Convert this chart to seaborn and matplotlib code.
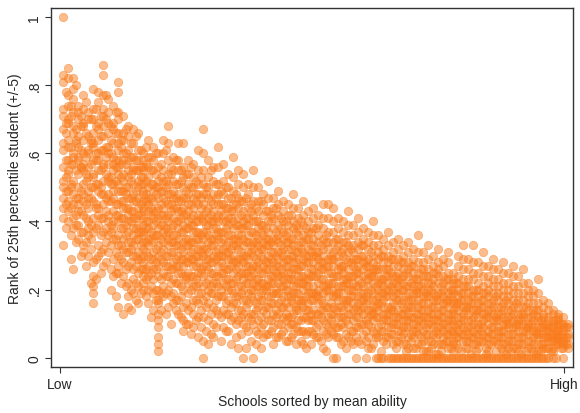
import seaborn as sns
import matplotlib.pyplot as plt
import pandas as pd

school_ranks = [
    "100 83 81 73 71 67 63 61 56 52 50 47 44 41 33",
    "85 82 77 74 70 69 64 62 58 55 54 49 46 43 40",
    "82 79 76 72 68 66 60 59 57 52 48 45 41 38 26",
    "74 72 70 65 62 59 58 54 50 47 45 43 39 35",
    "77 73 69 68 64 60 57 55 51 48 46 42 37 33 31",
    "72 70 65 61 60 56 53 49 47 44 40 38 36 30",
    "79 73 70 66 63 62 58 54 53 50 46 41 37 28 24 21 19 16",
    "78 75 69 67 64 60 58 55 51 49 44 42 39 33 30",
    "86 83 77 73 71 68 65 61 57 56 52 48 45 41 37 32 27",
    "76 72 69 66 62 60 57 53 52 48 46 42 40 36 31",
    "74 69 67 63 59 57 55 51 49 47 43 40 38 35 29 24",
    "81 78 72 70 66 63 61 58 56 54 51 49 45 42 40 36 33 30 27 25 15",
    "71 66 64 60 58 54 52 49 46 44 41 38 35 32 28 24 13",
    "68 65 61 58 55 53 50 47 44 42 40 37 34 31 27 22 18 15",
    "67 63 59 56 55 51 48 46 43 41 38 36 33 30 26 23 19",
    "66 61 58 55 52 50 47 44 42 39 37 35 31 29 25 21 16",
    "60 58 56 55 53 51 49 48 46 44 43 41 39 37 36 34 32 30 28 26 24 22 20",
    "64 59 56 53 50 47 45 43 40 38 35 33 30 27 24 20 16",
    "62 58 55 51 49 46 43 41 39 36 34 31 29 26 23 19 14",
    "60 56 52 50 47 44 41 38 36 33 30 27 24 20 17 16 13 11 9 6 4 2",
    "64 60 55 52 49 47 44 42 39 37 34 32 28 25 21 18",
    "68 63 58 54 51 48 45 42 40 37 35 33 30 27 24 20 15",
    "59 55 52 49 47 44 41 39 36 34 31 28 26 23 19 16",
    "63 58 55 51 48 46 43 40 38 35 33 30 27 25 22 17 13",
    "63 56 53 50 47 44 42 39 37 34 31 29 27 24 20 15 11 8",
    "58 54 51 48 45 43 40 38 35 33 30 28 25 22 19 14 10",
    "57 53 50 47 44 42 39 37 34 32 29 27 24 21 17 13 9",
    "61 55 51 48 45 42 40 37 35 32 30 28 25 22 19 16 12 6",
    "67 60 55 51 48 45 42 40 37 35 32 30 27 24 21 17 12 5 0",
    "58 53 50 47 44 41 39 36 34 31 29 26 23 20 16 11 4",
    "56 52 48 45 43 40 38 35 33 30 28 25 22 19 15 10 6",
    "62 56 51 48 45 42 40 37 35 32 30 27 24 21 18 13",
    "57 52 48 45 42 40 37 35 32 30 27 25 22 18 14 9",
    "54 50 47 44 41 39 36 34 31 29 26 23 20 17 13 8",
    "59 53 49 45 43 40 38 35 33 30 28 25 22 19 16 12",
    "55 51 47 44 41 39 36 34 32 29 27 24 21 18 14 11 3",
    "54 50 46 43 40 38 35 33 30 28 25 23 20 17 13 10 0",
    "51 48 44 41 39 36 34 31 29 27 24 22 19 16 12 8",
    "55 50 46 42 40 37 34 32 30 27 25 22 20 17 13 10 0",
    "50 46 43 40 38 35 33 31 28 26 23 21 18 15 11 7",
    "48 45 42 39 36 34 32 29 27 25 22 20 17 14 10 6",
    "52 47 43 40 37 35 33 30 28 26 23 21 18 15 11 7",
    "47 44 41 38 35 33 31 28 26 24 22 19 16 13 9 4",
    "49 45 42 39 36 34 31 29 27 24 22 19 16 13 10 6",
    "46 43 40 37 35 32 30 28 25 23 21 18 15 12 8",
    "45 42 39 37 34 32 29 27 25 23 20 18 15 12 9 5",
    "48 44 40 38 35 33 30 28 26 23 21 19 16 13 10 7",
    "44 41 38 36 33 31 29 26 24 22 19 17 14 11 8",
    "46 42 39 36 34 31 29 27 24 22 20 17 15 12 8 4",
    "43 40 37 35 32 30 28 25 23 21 19 16 14 11 8",
    "44 41 38 35 33 30 28 26 24 21 19 17 14 11 7",
    "42 39 36 34 31 29 27 25 22 20 18 16 13 10 6",
    "45 41 38 35 32 30 28 26 23 21 19 16 14 11 8 3",
    "45 41 37 34 32 29 27 25 22 20 18 15 12 9 6",
    "44 40 37 34 31 29 27 24 22 20 18 15 13 10 7 0",
    "41 38 35 33 30 28 26 24 21 19 17 15 12 9 6",
    "40 37 34 32 30 27 25 23 21 19 17 14 12 9 5",
    "43 39 36 33 31 28 26 24 22 20 17 15 13 10 6",
    "39 36 33 31 29 27 24 22 20 18 16 14 11 8 4",
    "41 37 34 32 29 27 25 23 21 18 16 14 12 9 5",
    "38 35 33 30 28 26 24 21 19 17 15 13 10 7",
    "37 34 32 29 27 25 23 21 19 17 14 12 10 6 3",
    "40 36 33 30 28 26 24 22 19 17 15 13 11 8 4",
    "36 33 31 29 26 24 22 20 18 16 14 12 9 6 0",
    "35 32 30 28 26 23 21 19 17 15 13 11 8 5 0",
    "37 33 30 28 26 24 22 20 18 15 13 11 9 6 0",
    "34 31 29 27 24 22 20 18 16 14 12 10 7 4 0",
    "35 32 29 27 25 23 21 19 17 14 12 10 8 5 0",
    "33 30 28 26 24 22 20 17 15 13 11 9 7 4 0",
    "34 31 28 26 24 21 19 17 15 13 11 9 6 3 0",
    "32 29 27 25 23 21 19 17 15 12 10 8 6 3 0",
    "36 31 28 25 23 21 19 17 15 13 11 9 7 4 0",
    "31 28 26 24 22 20 18 16 14 12 10 8 5 2 0",
    "33 29 26 24 22 20 18 16 14 12 10 7 5 2 0",
    "30 27 25 23 21 19 17 15 13 11 9 7 4 0",
    "32 28 26 24 22 19 17 15 13 11 9 7 4 1 0",
    "29 27 24 22 20 18 16 14 12 10 8 6 4 0",
    "31 28 25 23 21 19 17 15 13 11 9 7 5 3 0",
    "25 23 22 20 19 17 16 14 13 11 10 8 7 5 4 2 0",
    "30 27 24 22 20 18 16 14 12 10 8 6 3 0",
    "33 29 26 23 21 19 17 15 13 11 9 7 5 0",
    "29 26 23 21 19 17 15 13 11 9 7 5 3 0",
    "33 28 25 23 20 18 16 14 12 10 8 6 4 0",
    "28 25 22 20 18 16 14 12 10 9 7 5 3 0",
    "31 27 24 21 19 17 15 13 11 9 7 5 0",
    "27 24 22 20 18 16 14 12 10 8 6 4 2 0",
    "29 26 23 21 19 17 15 13 11 9 7 5 0",
    "26 23 21 19 17 15 13 11 9 8 6 4 0",
    "28 25 22 20 18 16 14 12 10 8 6 4 2 0",
    "25 22 20 18 16 14 12 10 9 7 5 3 0",
    "27 24 21 19 17 15 13 11 9 7 5 3 0",
    "24 21 19 17 15 13 11 10 8 6 4 2 0",
    "26 22 19 17 15 13 12 10 8 6 4 0",
    "22 20 18 16 14 12 10 9 7 5 3 0",
    "20 18 16 14 13 11 9 8 6 4 2 0",
    "23 19 16 14 12 11 9 7 6 4 2 0",
    "17 15 13 12 10 9 7 6 4 3 0",
    "16 14 12 11 9 8 6 5 3 0",
    "14 13 11 10 9 7 6 5 3 2 0",
    "13 12 11 10 9 8 7 6 5 4",
    "12 10 9 8 6 5 4 3 0",
    "10 9 7 6 4 3",
]
# schools that sit between the ones above
school_ranks_mid = [
    "78 69 66 58 53 49 45 38",
    "74 71 62 57 51 50 44 36 29",
    "80 67 64 63 55 47 42 39 34",
    "71 68 61 56 56 49 43 37 30",
    "75 66 59 54 52 45 41 34 27",
    "70 64 63 57 50 47 39 35 32 22",
    "73 68 60 58 51 45 44 38 29 23",
    "71 65 61 55 50 48 41 36 31 25",
    "77 70 62 59 54 47 43 38 34 28",
    "68 64 60 53 51 46 39 37 33 26 20",
    "72 66 58 56 52 45 42 35 31 25 18",
    "64 62 57 53 49 46 41 38 33 29 22",
    "67 60 57 50 48 44 39 36 31 26 21",
    "63 59 54 52 47 43 40 34 32 28 20 14",
    "65 58 55 49 46 41 38 35 30 27 22 17",
    "61 56 53 51 45 42 37 33 29 26 19",
    "62 57 52 48 46 40 38 34 31 26 23 18",
    "59 55 51 47 44 42 37 35 29 25 21 12",
    "60 54 50 48 43 40 36 32 28 26 20 17",
    "57 53 49 45 42 39 35 31 29 23 19 14",
    "61 52 50 46 41 38 36 30 27 24 19 13",
    "56 54 48 45 43 38 34 31 26 22 18 10",
    "58 51 47 44 40 36 33 29 27 22 17 14",
    "55 52 46 43 41 37 32 29 25 21 18 12",
    "54 49 47 42 38 35 33 28 24 23 16 10",
    "56 50 45 41 39 34 31 29 24 20 15 7",
    "52 48 46 40 37 35 30 27 23 21 17 11",
    "53 47 44 41 36 33 31 26 25 19 14 9",
    "50 48 43 39 37 32 29 27 22 18 15 8",
    "55 46 42 40 35 33 28 25 21 19 13 7",
    "51 47 41 38 36 31 29 24 22 17 14 9",
    "49 45 43 37 34 30 28 25 20 18 12 5",
    "50 44 40 38 33 31 26 23 21 16 13 8",
    "47 43 41 36 32 29 27 22 20 15 11 4",
    "48 45 39 35 33 28 26 23 18 16 10 6",
    "46 42 38 36 31 29 25 21 19 14 12 7",
    "47 41 39 34 30 27 25 22 17 15 9 3",
    "45 43 37 33 31 26 24 20 18 13 11 5",
    "44 40 36 34 29 27 23 21 16 14 8 4",
    "46 39 37 32 30 25 22 19 17 12 9 3",
    "43 38 35 33 28 26 21 20 15 13 7",
    "42 40 34 31 29 24 22 18 16 11 8",
    "44 37 35 30 27 25 20 19 14 12 6",
    "41 38 33 31 26 24 21 17 15 10 7",
    "40 36 34 29 27 22 20 16 13 11 5",
    "42 35 32 30 25 23 18 17 12 10 6",
    "39 37 31 28 26 21 19 15 14 9 4",
    "40 34 32 27 24 22 17 16 11 8 5",
    "38 35 30 28 23 21 18 14 12 7 3",
    "37 33 31 26 24 19 17 13 11 8 4",
    "38 31 30 24 19 18 13 9 6",
    "33 28 26 23 17 14 12 5",
    "36 34 27 21 20 15 10 7 2",
    "30 29 25 22 16 13 11 8",
    "35 32 24 19 18 14 9 6 0",
    "31 27 26 21 15 12 10 4",
    "34 29 23 22 17 16 11 7 3",
    "32 28 24 20 18 13 8 5",
    "29 26 25 21 15 12 9 6 0",
    "33 30 22 19 17 14 10 4",
    "28 27 23 18 16 11 8 5 0",
    "31 25 24 20 14 13 9 3",
    "27 26 21 17 15 12 7 6 0",
    "30 23 22 19 16 10 8 2 0",
    "26 24 20 18 13 11 6 4",
    "29 25 21 15 14 9 7 0",
    "24 22 19 17 12 10 5 3 0",
    "28 23 20 16 13 8 6 0",
    "25 21 18 14 11 9 4 2 0",
    "27 22 17 15 12 7 5 0",
    "23 20 19 13 10 8 3 0",
    "26 21 16 14 11 6 4 0",
    "24 19 18 12 9 7 2 0",
    "22 20 15 13 10 5 3 0",
    "25 18 17 11 8 6 1 0",
    "21 19 14 12 9 4 2 0",
    "23 17 16 10 7 5 0",
    "20 18 13 11 8 3 0",
    "22 16 15 9 6 4 0",
    "19 17 12 10 7 2 0",
    "21 15 14 8 5 3 0",
    "18 16 11 9 6 1 0",
    "20 14 13 7 4 2 0",
    "17 15 10 8 5 0",
    "19 13 12 6 3 1 0",
    "16 14 9 7 4 0",
    "18 12 11 5 2 0",
    "15 13 8 6 3 0",
    "17 11 10 4 1 0",
    "14 12 7 5 2 0",
    "16 10 9 3 0",
    "13 11 6 4 1 0",
    "15 9 8 2 0",
    "12 10 5 3 0",
    "14 8 7 1 0",
    "11 9 4 2 0",
    "10 8 6 3 0",
    "9 7 5 2",
    "11 8 6 4 0",
    "10 7 5 3",
    "9 6 4",
]
y_ticks = [0, 0.2, 0.4, 0.6, 0.8, 1]
y_tick_labels = ["0", ".2", ".4", ".6", ".8", "1"]
x_tick_labels = ["Low", "High"]

rows = []
for school, s in enumerate(school_ranks, start=1):
    for v in s.split():
        rows.append((school, int(v) / 100))
for school, s in enumerate(school_ranks_mid, start=1):
    for v in s.split():
        rows.append((school + 0.5, int(v) / 100))
df = pd.DataFrame(rows, columns=["school", "rank25"])

sns.set_style("white")
plt.rcParams['font.family'] = ['Liberation Sans', 'DejaVu Sans']

orange = "#f97d1e"
fig = plt.figure(figsize=(5.8, 4.14), dpi=100)
ax = fig.add_axes([0.088, 0.111, 0.9, 0.867])

sns.scatterplot(data=df, x="school", y="rank25", ax=ax, color=orange,
                alpha=0.5, s=36, edgecolor=orange, linewidth=0.6)

ax.set_xlim(-1.4, 103)
ax.set_ylim(-0.027, 1.026)
ax.set_yticks(y_ticks)
ax.set_yticklabels(y_tick_labels, rotation=90, va="center", fontsize=10)
ax.set_xticks([0.4, 101.2])
ax.set_xticklabels(x_tick_labels, fontsize=10)
ax.tick_params(axis="both", direction="out", length=4, width=0.8,
               color="#333333", left=True, bottom=True, pad=3)
ax.set_xlabel("Schools sorted by mean ability", fontsize=10, labelpad=2)
ax.set_ylabel("Rank of 25th percentile student (+/-5)", fontsize=10, labelpad=4)
for sp in ax.spines.values():
    sp.set_color("#333333")
    sp.set_linewidth(1.0)

fig.savefig("out.png", dpi=100)
